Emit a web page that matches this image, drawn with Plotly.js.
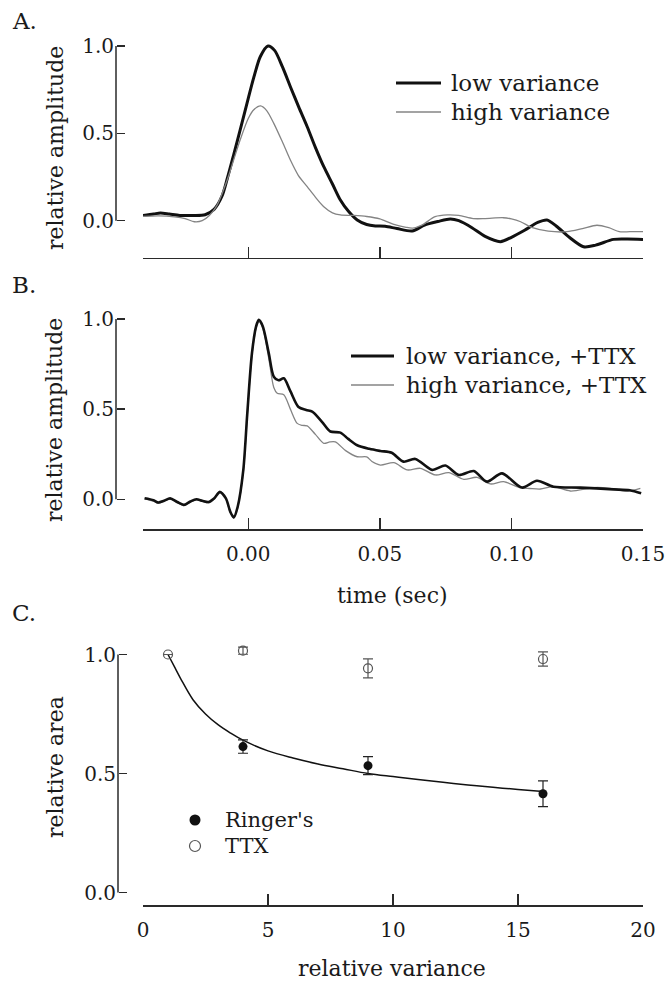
<!DOCTYPE html>
<html>
<head>
<meta charset="utf-8">
<script src="https://cdn.plot.ly/plotly-3.0.1.min.js"></script>
<style>html,body{margin:0;padding:0;background:#fff;}#chart{width:668px;height:984px;}</style>
</head>
<body>
<div id="chart"></div>
<script>
// ---------- Panel A data ----------
const timeA_low = [-0.040,-0.036,-0.0334,-0.030,-0.026,-0.021,-0.0164,-0.013,-0.010,-0.008,-0.0055,-0.0029,0.000,0.0021,0.0046,0.0075,0.010,0.013,0.016,0.0192,0.0224,0.0255,0.0287,0.032,0.035,0.038,0.0414,0.045,0.0483,0.052,0.0565,0.0623,0.067,0.072,0.0768,0.080,0.085,0.090,0.0958,0.100,0.105,0.110,0.1135,0.117,0.122,0.1274,0.132,0.1388,0.144,0.150];
const ampA_low  = [0.030,0.038,0.044,0.038,0.030,0.030,0.034,0.065,0.14,0.24,0.38,0.53,0.70,0.82,0.94,1.00,0.975,0.88,0.767,0.65,0.538,0.42,0.309,0.21,0.118,0.055,0.004,-0.022,-0.030,-0.032,-0.045,-0.059,-0.025,-0.005,0.010,0.000,-0.040,-0.090,-0.120,-0.095,-0.055,-0.010,0.004,-0.030,-0.095,-0.149,-0.140,-0.107,-0.105,-0.107];
const timeA_high = [-0.040,-0.034,-0.028,-0.024,-0.0205,-0.0175,-0.0148,-0.012,-0.008,-0.0055,-0.0029,0.000,0.0021,0.0047,0.007,0.0097,0.013,0.016,0.019,0.0224,0.0255,0.0287,0.032,0.035,0.040,0.045,0.050,0.055,0.060,0.0625,0.066,0.071,0.0757,0.080,0.0855,0.090,0.0969,0.100,0.1035,0.108,0.114,0.1211,0.127,0.1325,0.137,0.141,0.145,0.150];
const ampA_high  = [0.025,0.028,0.022,0.012,-0.006,0.000,0.030,0.085,0.233,0.35,0.47,0.585,0.635,0.657,0.63,0.557,0.45,0.347,0.26,0.195,0.135,0.08,0.045,0.033,0.030,0.024,0.010,-0.020,-0.038,-0.042,-0.025,0.023,0.033,0.030,0.012,0.012,0.017,0.010,-0.006,-0.040,-0.060,-0.063,-0.045,-0.026,-0.040,-0.063,-0.063,-0.063];

// ---------- Panel B data ----------
const timeB_low = [-0.0394,-0.036,-0.0342,-0.032,-0.0297,-0.027,-0.0245,-0.022,-0.0197,-0.0175,-0.0151,-0.013,-0.0108,-0.0085,-0.0068,-0.0055,-0.004,-0.0019,-0.0004,0.0014,0.003,0.004,0.0055,0.0078,0.0097,0.0115,0.0135,0.016,0.0191,0.022,0.0243,0.028,0.0312,0.035,0.038,0.0414,0.046,0.0502,0.0545,0.059,0.0635,0.0699,0.0749,0.080,0.0857,0.0907,0.0964,0.104,0.1097,0.116,0.1262,0.1388,0.145,0.1493];
const ampB_low  = [0.006,-0.005,-0.018,-0.008,0.005,-0.015,-0.031,-0.012,0.000,-0.008,-0.015,0.005,0.040,0.005,-0.070,-0.100,-0.040,0.16,0.47,0.81,0.96,0.995,0.96,0.81,0.68,0.66,0.671,0.60,0.512,0.495,0.486,0.43,0.376,0.370,0.335,0.300,0.280,0.268,0.258,0.209,0.224,0.163,0.187,0.135,0.157,0.098,0.144,0.065,0.103,0.070,0.065,0.055,0.050,0.033];
const timeB_high = [-0.0394,-0.036,-0.0342,-0.032,-0.0297,-0.027,-0.0245,-0.022,-0.0197,-0.0175,-0.0151,-0.013,-0.0108,-0.0085,-0.0068,-0.0055,-0.004,-0.0019,-0.0004,0.0014,0.003,0.004,0.0055,0.0078,0.0097,0.011,0.0135,0.016,0.0186,0.0205,0.0224,0.0255,0.0287,0.031,0.0331,0.037,0.0414,0.045,0.047,0.0502,0.0553,0.0604,0.0654,0.0711,0.0762,0.0819,0.0869,0.092,0.097,0.103,0.107,0.111,0.116,0.1224,0.1316,0.1375,0.144,0.149];
const ampB_high  = [0.003,-0.010,-0.022,-0.010,0.002,-0.018,-0.035,-0.015,-0.003,-0.010,-0.020,0.002,0.045,0.005,-0.075,-0.105,-0.045,0.15,0.46,0.80,0.95,0.985,0.95,0.78,0.62,0.588,0.58,0.50,0.421,0.41,0.407,0.36,0.31,0.318,0.318,0.27,0.236,0.235,0.21,0.19,0.203,0.163,0.172,0.135,0.148,0.111,0.122,0.085,0.098,0.065,0.060,0.057,0.070,0.046,0.065,0.061,0.046,0.061];

// ---------- Panel C data ----------
const fitVariance = [1,1.25,1.5,2,2.5,3,3.5,4,5,6,7,8,9,10,11,12,13,14,15,16];
const fitArea     = [1.0,0.95,0.90,0.81,0.75,0.705,0.67,0.64,0.595,0.565,0.54,0.52,0.50,0.487,0.475,0.463,0.452,0.442,0.433,0.424];
const ringerVariance = [4,9,16];
const ringerArea     = [0.613,0.533,0.415];
const ringerErr      = [0.028,0.038,0.054];
const ttxVariance = [1,4,9,16];
const ttxArea     = [1.0,1.016,0.942,0.981];
const ttxErr      = [0,0.015,0.04,0.03];

// ---------- tick values / labels ----------
const ampTicks = [0,0.5,1.0];
const timeTicks = [0,0.05,0.10,0.15];
const varTicks = [0,5,10,15,20];
const legendA = ["low variance","high variance"];
const legendB = ["low variance, +TTX","high variance, +TTX"];
const legendC = ["Ringer's","TTX"];

// ---------- layout helpers (pixel -> paper) ----------
const W = 668, H = 984;
const fx = p => p / W;
const fy = p => 1 - p / H;
function yRange(p0, p1, pb, pt){ const u = p0 - p1; return [(p0 - pb)/u, (p0 - pt)/u]; }

const FONT = "DejaVu Serif";
const AX = "#2a2a2a";
const BLACK = "#111111";
const GRAY = "#848484";
const xDom = [fx(143), fx(643)];

function xAxis(anchor, range, tickvals, showLabels, fmt){
  return {domain: xDom, range: range, anchor: anchor, showline: true, linecolor: AX, linewidth: 1.5,
    ticks: "inside", ticklen: 11, tickwidth: 1.5, tickcolor: AX, tickvals: tickvals,
    showticklabels: showLabels, tickformat: fmt, tickfont: {family: FONT, size: 20, color: "#1a1a1a"},
    ticklabelstandoff: 6, showgrid: false, zeroline: false, fixedrange: true};
}
function yAxis(dom, range, pos){
  return {domain: dom, range: range, anchor: "free", position: pos, showline: false,
    ticks: "inside", ticklen: 8, tickwidth: 1.5, tickcolor: AX, tickvals: ampTicks, tickformat: ".1f",
    tickfont: {family: FONT, size: 20, color: "#1a1a1a"}, ticklabelstandoff: 2,
    showgrid: false, zeroline: false, fixedrange: true};
}

const traces = [
  {x: timeA_low, y: ampA_low, xaxis: "x", yaxis: "y", mode: "lines", name: legendA[0],
   line: {color: BLACK, width: 3, shape: "spline", smoothing: 0.8}},
  {x: timeA_high, y: ampA_high, xaxis: "x", yaxis: "y", mode: "lines", name: legendA[1],
   line: {color: GRAY, width: 1.3, shape: "spline", smoothing: 0.8}},
  {x: timeB_high, y: ampB_high, xaxis: "x2", yaxis: "y2", mode: "lines", name: legendB[1],
   line: {color: GRAY, width: 1.3, shape: "spline", smoothing: 0.8}},
  {x: timeB_low, y: ampB_low, xaxis: "x2", yaxis: "y2", mode: "lines", name: legendB[0],
   line: {color: BLACK, width: 2.6, shape: "spline", smoothing: 0.8}},
  {x: fitVariance, y: fitArea, xaxis: "x3", yaxis: "y3", mode: "lines", name: "fit",
   line: {color: BLACK, width: 1.5, shape: "spline"}},
  {x: ringerVariance, y: ringerArea, xaxis: "x3", yaxis: "y3", mode: "markers", name: legendC[0],
   marker: {symbol: "circle", size: 9, color: BLACK},
   error_y: {type: "data", array: ringerErr, visible: true, color: "#222", thickness: 1.2, width: 5}},
  {x: ttxVariance, y: ttxArea, xaxis: "x3", yaxis: "y3", mode: "markers", name: legendC[1],
   marker: {symbol: "circle-open", size: 9, color: "#555", line: {width: 1.2, color: "#555"}},
   error_y: {type: "data", array: ttxErr, visible: true, color: "#555", thickness: 1.2, width: 5}}
];

const shapes = [
  {type: "line", xref: "paper", yref: "y", x0: fx(116), x1: fx(116), y0: 0, y1: 1, line: {color: AX, width: 1.5}},
  {type: "line", xref: "paper", yref: "y2", x0: fx(116), x1: fx(116), y0: 0, y1: 1, line: {color: AX, width: 1.5}},
  {type: "line", xref: "paper", yref: "y3", x0: fx(118), x1: fx(118), y0: 0, y1: 1, line: {color: AX, width: 1.5}},
  {type: "line", xref: "paper", yref: "paper", x0: fx(396), x1: fx(441), y0: fy(83), y1: fy(83), line: {color: BLACK, width: 3}},
  {type: "line", xref: "paper", yref: "paper", x0: fx(396), x1: fx(441), y0: fy(112), y1: fy(112), line: {color: GRAY, width: 1.3}},
  {type: "line", xref: "paper", yref: "paper", x0: fx(351), x1: fx(394), y0: fy(356), y1: fy(356), line: {color: BLACK, width: 3}},
  {type: "line", xref: "paper", yref: "paper", x0: fx(351), x1: fx(394), y0: fy(385), y1: fy(385), line: {color: GRAY, width: 1.3}},
  {type: "circle", xref: "paper", yref: "paper", xsizemode: "pixel", ysizemode: "pixel",
   xanchor: fx(195), yanchor: fy(820), x0: -5.5, x1: 5.5, y0: -5.5, y1: 5.5, fillcolor: BLACK, line: {width: 0}},
  {type: "circle", xref: "paper", yref: "paper", xsizemode: "pixel", ysizemode: "pixel",
   xanchor: fx(195), yanchor: fy(846), x0: -5.5, x1: 5.5, y0: -5.5, y1: 5.5, fillcolor: "#fff", line: {width: 1.2, color: "#555"}}
];

function ann(text, px, py, opts){
  return Object.assign({text: text, xref: "paper", yref: "paper", x: fx(px), y: fy(py), showarrow: false,
    xanchor: "center", yanchor: "middle", font: {family: FONT, size: 22, color: "#1a1a1a"}}, opts || {});
}
const annotations = [
  ann("A.", 10, 21, {xanchor: "left", font: {family: FONT, size: 23, color: "#1a1a1a"}}),
  ann("B.", 10, 285, {xanchor: "left", font: {family: FONT, size: 23, color: "#1a1a1a"}}),
  ann("C.", 10, 613, {xanchor: "left", font: {family: FONT, size: 23, color: "#1a1a1a"}}),
  ann("relative amplitude", 55, 148, {textangle: -90}),
  ann("relative amplitude", 55, 420, {textangle: -90}),
  ann("relative area", 55, 767, {textangle: -90}),
  ann("time (sec)", 393, 595),
  ann("relative variance", 392, 968),
  ann(legendA[0], 449, 83, {xanchor: "left", font: {family: FONT, size: 23, color: "#1a1a1a"}}),
  ann(legendA[1], 449, 112, {xanchor: "left", font: {family: FONT, size: 23, color: "#1a1a1a"}}),
  ann(legendB[0], 404, 356, {xanchor: "left", font: {family: FONT, size: 23, color: "#1a1a1a"}}),
  ann(legendB[1], 404, 385, {xanchor: "left", font: {family: FONT, size: 23, color: "#1a1a1a"}}),
  ann(legendC[0], 223, 820, {xanchor: "left", font: {family: FONT, size: 21, color: "#1a1a1a"}}),
  ann(legendC[1], 223, 846, {xanchor: "left", font: {family: FONT, size: 21, color: "#1a1a1a"}})
];

const layout = {
  width: W, height: H, margin: {l: 0, r: 0, t: 0, b: 0},
  paper_bgcolor: "#ffffff", plot_bgcolor: "#ffffff", showlegend: false,
  font: {family: FONT, size: 20, color: "#1a1a1a"},
  xaxis:  xAxis("y",  [-0.04, 0.15], timeTicks, false, ".2f"),
  yaxis:  yAxis([fy(257.7), fy(32)], yRange(220.7, 46, 257.7, 32), fx(116)),
  xaxis2: xAxis("y2", [-0.04, 0.15], timeTicks, true, ".2f"),
  yaxis2: yAxis([fy(529.3), fy(305)], yRange(499.3, 319, 529.3, 305), fx(116)),
  xaxis3: xAxis("y3", [0, 20], varTicks, true, "d"),
  yaxis3: yAxis([fy(905), fy(640)], yRange(892.5, 654.5, 905, 640), fx(118)),
  shapes: shapes, annotations: annotations
};

Plotly.newPlot("chart", traces, layout, {staticPlot: true, displayModeBar: false});
</script>
</body>
</html>
